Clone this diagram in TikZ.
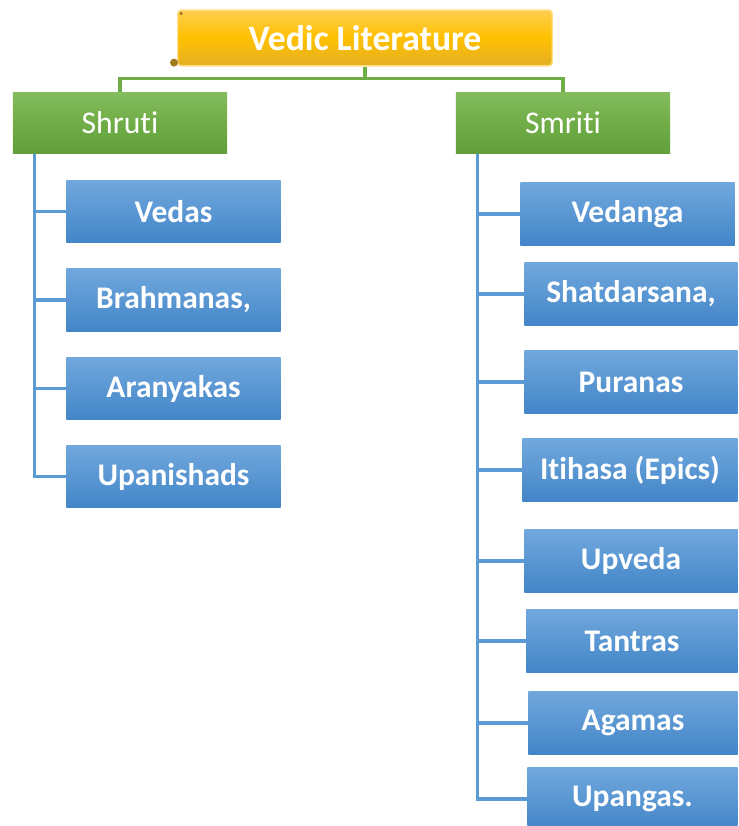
\documentclass[tikz,border=0pt]{standalone}
\usepackage{fontspec}
\setmainfont[Ligatures=NoCommon]{Carlito}
\usepackage{tikz}
\usetikzlibrary{calc}

\definecolor{bluetop}{RGB}{113,168,221}
\definecolor{bluebot}{RGB}{66,133,200}
\definecolor{greentop}{RGB}{132,188,94}
\definecolor{greenbot}{RGB}{98,160,60}
\definecolor{greenmid}{RGB}{112,173,71}
\definecolor{goldtop}{RGB}{255,206,80}
\definecolor{goldmid}{RGB}{255,192,0}
\definecolor{goldbot}{RGB}{228,176,38}
\definecolor{blueline}{RGB}{91,155,213}
\definecolor{greenline}{RGB}{112,173,71}
\def\px{0.5669pt}

\begin{document}
\begin{tikzpicture}[x=0.02cm,y=-0.02cm,
  titlebox/.style={inner sep=0pt,rounded corners=2pt,draw=goldtop!70!white,line width=0.8pt,
    top color=goldtop,bottom color=goldbot,middle color=goldmid,text=white,
    font=\fontsize{20.3}{24}\selectfont\bfseries},
  greenbox/.style={inner sep=0pt,minimum width=215*\px,minimum height=62*\px,
    top color=greentop,bottom color=greenbot,middle color=greenmid,text=white,
    font=\fontsize{18}{22}\selectfont},
  bluebox/.style={inner sep=0pt,minimum height=63*\px,
    top color=bluetop,bottom color=bluebot,text=white,
    font=\fontsize{17.9}{22}\selectfont\bfseries},
  gline/.style={greenline,line width=1.9pt},
  bline/.style={blueline,line width=2pt}]
\useasboundingbox (0,0) rectangle (738,826);

% top
\node[titlebox,minimum width=376*\px,minimum height=56*\px] (vedic) at (365,38) {Vedic Literature};
\fill[goldbot!70!black] ($(vedic.south west)+(-3,-4)$) circle (4);
\fill[goldbot!70!black] ($(vedic.north west)+(4,4)$) circle (1.8);

% two branches
\node[greenbox] (shruti) at (120,123) {Shruti};
\node[greenbox] (smriti) at (563,123) {Smriti};

% Shruti side
\node[bluebox,minimum width=215*\px] (vedas) at (173.5,211.5) {Vedas};
\node[bluebox,minimum width=215*\px] (brahmanas) at (173.5,300) {Brahmanas,};
\node[bluebox,minimum width=215*\px] (aranyakas) at (173.5,388.5) {Aranyakas};
\node[bluebox,minimum width=215*\px] (upanishads) at (173.5,476.5) {Upanishads};

% Smriti side
\node[bluebox,minimum width=215*\px] (vedanga) at (627.5,214) {Vedanga};
\node[bluebox,minimum width=214*\px] (shatdarsana) at (631,294) {Shatdarsana,};
\node[bluebox,minimum width=214*\px] (puranas) at (631,382) {Puranas};
\node[bluebox,minimum width=216*\px] (itihasa) at (630,470) {Itihasa (Epics)};
\node[bluebox,minimum width=214*\px] (upveda) at (631,561) {Upveda};
\node[bluebox,minimum width=212*\px] (tantras) at (632,641) {Tantras};
\node[bluebox,minimum width=210*\px] (agamas) at (633,723) {Agamas};
\node[bluebox,minimum width=211*\px] (upangas) at (632.5,799) {Upangas.};

% connectors
\draw[gline] (vedic.south) -- ++(0,12) -| (shruti.north);
\draw[gline] (vedic.south) -- ++(0,12) -| (smriti.north);
\foreach \b in {vedas,brahmanas,aranyakas,upanishads}
  \draw[bline] ([xshift=12.5pt]shruti.south west) |- (\b.west);
\foreach \b in {vedanga,shatdarsana,puranas,itihasa,upveda,tantras,agamas,upangas}
  \draw[bline] ([xshift=12.5pt]smriti.south west) |- (\b.west);
\end{tikzpicture}
\end{document}
